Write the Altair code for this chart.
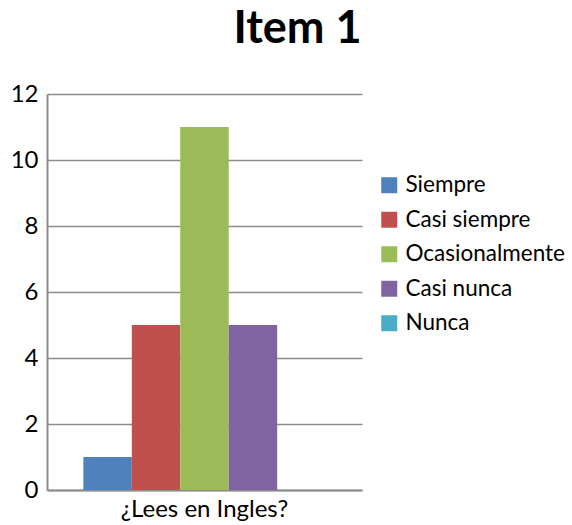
import altair as alt
import pandas as pd

# Survey answers for one question
pregunta = "¿Lees en Ingles?"
respuestas = ["Siempre", "Casi siempre", "Ocasionalmente", "Casi nunca", "Nunca"]
conteos = [1, 5, 11, 5, 0]
colores = ["#4F81BD", "#C0504D", "#9BBB59", "#8064A2", "#4BACC6"]

df = pd.DataFrame({
    "Pregunta": [pregunta] * len(respuestas),
    "Respuesta": respuestas,
    "Conteo": conteos,
})

FONT = "Lato"

chart = alt.Chart(df).mark_bar().encode(
    x=alt.X(
        "Pregunta:N",
        title=None,
        scale=alt.Scale(paddingInner=0, paddingOuter=0.15),
        axis=alt.Axis(
            labelAngle=0, labelFontSize=24, labelFont=FONT, labelColor="#000000",
            labelPadding=7, ticks=False, domainColor="#8c8c8c", domainWidth=2,
        ),
    ),
    xOffset=alt.XOffset(
        "Respuesta:N", sort=respuestas, scale=alt.Scale(paddingInner=0, paddingOuter=0)
    ),
    y=alt.Y(
        "Conteo:Q",
        title=None,
        scale=alt.Scale(domain=[0, 12]),
        axis=alt.Axis(
            values=[0, 2, 4, 6, 8, 10, 12], labelFontSize=24, labelFont=FONT,
            labelColor="#000000", labelPadding=9, ticks=False,
            domainColor="#8c8c8c", domainWidth=2,
            gridColor="#8c8c8c", gridWidth=1.5,
        ),
    ),
    color=alt.Color(
        "Respuesta:N",
        sort=respuestas,
        scale=alt.Scale(domain=respuestas, range=colores),
        legend=alt.Legend(
            title=None, orient="none", legendX=331, legendY=80,
            symbolType="square", symbolSize=256, symbolStrokeWidth=0,
            labelFontSize=22.5, labelFont=FONT, labelColor="#000000",
            rowPadding=11.5, labelOffset=5, labelLimit=300,
        ),
    ),
).properties(
    width=315,
    height=396,
    title=alt.TitleParams(
        "Item 1", fontSize=45, font=FONT, fontWeight="bold", color="#000000",
        anchor="middle", dx=93, offset=30,
    ),
    autosize=alt.AutoSizeParams(type="none"),
    padding={"left": 47, "top": 94, "right": 210, "bottom": 35},
).configure_view(stroke=None)

chart.save("out.html", embed_options={"renderer": "svg", "actions": False})
